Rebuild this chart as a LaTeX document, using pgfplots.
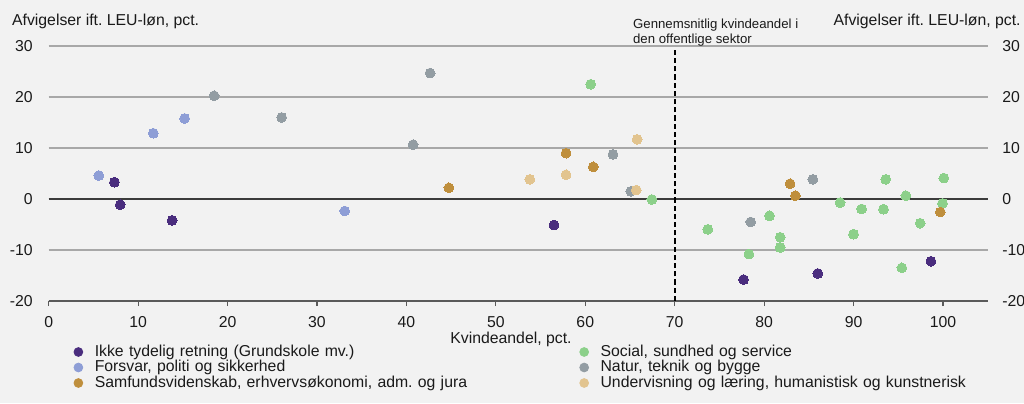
\documentclass[border=0pt]{standalone}
\usepackage{fontspec}
\setmainfont{Liberation Sans}
\usepackage{pgfplots}
\pgfplotsset{compat=1.18}

\definecolor{bg}{HTML}{F2F2F2}
\definecolor{txt}{HTML}{1A1A1A}
\definecolor{gridgray}{HTML}{A8A8A8}
\definecolor{zerogray}{HTML}{3C3C3C}
\definecolor{axgray}{HTML}{5A5A5A}
\definecolor{cIkke}{HTML}{4A2D7E}
\definecolor{cForsvar}{HTML}{8E9ED6}
\definecolor{cSamf}{HTML}{BF8F3D}
\definecolor{cSocial}{HTML}{8CD08A}
\definecolor{cNatur}{HTML}{939DA3}
\definecolor{cUnderv}{HTML}{E2C48F}

\newcommand{\mainfont}{\fontsize{7.9}{9}\selectfont}

\pgfplotsset{
  dot/.style={only marks, mark=*, mark size=2.45pt,
    mark options={draw=#1, fill=#1, line width=0pt}, color=#1},
  frame/.style={
    at={(24.35pt,51pt)}, anchor=south west,
    width=469.5pt, height=127.5pt, scale only axis,
    xmin=0, xmax=105, ymin=-20, ymax=30,
    ytick={-20,-10,...,30},
    y axis line style={draw=none}, ytick style={draw=none},
    ytick align=inside,
    ticklabel style={font=\mainfont, text=txt},
    /pgf/number format/assume math mode=true,
  },
}

\begin{document}
\frenchspacing
\begin{tikzpicture}
\useasboundingbox (0,0) rectangle (512pt,201.5pt);
\fill[bg] (0,0) rectangle (512pt,201.5pt);

% right-hand tick labels
\begin{axis}[frame,
  axis x line=none, axis y line*=right,
  yticklabel style={anchor=west, inner sep=0pt, xshift=7.15pt},
]
\end{axis}

\begin{axis}[frame, clip=false,
  axis x line*=bottom, axis y line*=left,
  x axis line style={draw=axgray, line width=0.8pt},
  xtick={0,10,...,100},
  xtick style={draw=axgray, line width=0.6pt},
  xtick align=outside, major tick length=2.5pt,
  xticklabel style={inner sep=0pt, yshift=-5pt},
  yticklabel style={anchor=east, inner sep=0pt, xshift=-7.85pt},
  ymajorgrids, grid style={gridgray, line width=0.6pt},
  extra y ticks={0}, extra y tick labels={},
  extra y tick style={grid style={zerogray, line width=0.8pt}},
  xlabel={Kvindeandel, pct.},
  xlabel style={font=\mainfont, text=txt, inner sep=0pt,
    at={(axis description cs:0.4923,-0.149)}, anchor=center},
  legend columns=2,
  legend style={draw=none, fill=none, inner sep=0pt, outer sep=0pt,
    at={(axis description cs:0.0265,-0.1696)}, anchor=north west,
    font=\mainfont, text=txt, row sep=0pt,
    /tikz/every odd column/.style={column sep=5.8pt},
    /tikz/every even column/.style={column sep=0pt},
    nodes={inner sep=0pt, text height=5.9pt, text depth=1.85pt,
      text width=242.3pt, align=left},
    cells={anchor=west}},
  legend image code/.code={\fill[#1] (2.2pt,0pt) circle (2.2pt);},
]

\draw[black, line width=0.8pt, dash pattern=on 2.6pt off 1.5pt]
  (axis cs:70,-20) -- (axis cs:70,29.6);

\addplot[dot=cIkke] coordinates {
  (7.35,3.3) (8.0,-1.1) (13.8,-4.2) (56.5,-5.1) (77.7,-15.8) (86.0,-14.6) (98.65,-12.2)
};
\addlegendentry{Ikke tydelig retning (Grundskole mv.)}

\addplot[dot=cSocial] coordinates {
  (60.6,22.5) (67.45,-0.1) (73.7,-5.95) (78.3,-10.8) (80.6,-3.3) (81.8,-7.5)
  (81.8,-9.5) (88.5,-0.7) (90.0,-6.9) (90.9,-1.95) (93.35,-2.0) (93.6,3.85)
  (95.4,-13.5) (95.85,0.65) (97.45,-4.75) (99.95,-0.85) (100.1,4.1)
};
\addlegendentry{Social, sundhed og service}

\addplot[dot=cForsvar] coordinates {
  (5.6,4.6) (11.7,12.9) (15.2,15.8) (33.1,-2.35)
};
\addlegendentry{Forsvar, politi og sikkerhed}

\addplot[dot=cNatur] coordinates {
  (18.5,20.25) (26.05,16.0) (40.75,10.65) (42.65,24.7) (63.1,8.75)
  (65.1,1.5) (78.5,-4.5) (85.45,3.85)
};
\addlegendentry{Natur, teknik og bygge}

\addplot[dot=cSamf] coordinates {
  (44.75,2.2) (57.85,9.0) (60.9,6.3) (82.9,3.0) (83.5,0.65) (99.7,-2.55)
};
\addlegendentry{Samfundsvidenskab, erhvervsøkonomi, adm. og jura}

\addplot[dot=cUnderv] coordinates {
  (53.8,3.85) (57.85,4.75) (65.7,1.75) (65.8,11.7)
};
\addlegendentry{Undervisning og læring, humanistisk og kunstnerisk}

\node[anchor=base west, inner sep=0pt, font=\mainfont, text=txt]
  at (axis description cs:-0.0394,1.0824) {Afvigelser ift. LEU-løn, pct.};
\node[anchor=base east, inner sep=0pt, font=\mainfont, text=txt]
  at (axis description cs:1.0355,1.0824) {Afvigelser ift. LEU-løn, pct.};
\node[anchor=base west, inner sep=0pt, font=\fontsize{6.6}{7.5}\selectfont, text=txt]
  at (axis description cs:0.622,1.0694) {Gennemsnitlig kvindeandel i};
\node[anchor=base west, inner sep=0pt, font=\fontsize{6.6}{7.5}\selectfont, text=txt]
  at (axis description cs:0.622,1.0106) {den offentlige sektor};
\end{axis}
\end{tikzpicture}
\end{document}
